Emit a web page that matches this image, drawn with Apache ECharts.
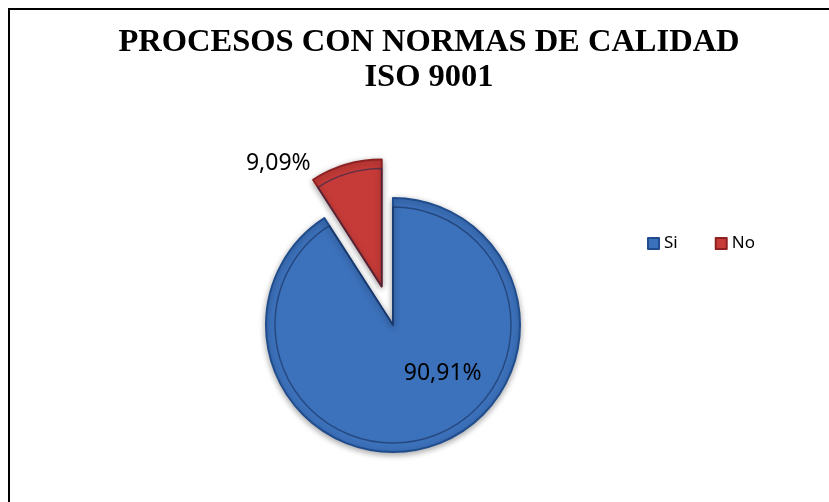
<!DOCTYPE html>
<html>
<head>
<meta charset="utf-8">
<script src="https://cdn.jsdelivr.net/npm/echarts@6/dist/echarts.min.js"></script>
<style>
html, body { margin: 0; padding: 0; background: #fff; }
#chart { width: 829px; height: 502px; }
</style>
</head>
<body>
<div id="chart"></div>
<script>
// datos del grafico
const categorias = ["Si", "No"];
const valores = [90.91, 9.09];
const etiquetas = ["90,91%", "9,09%"];
const colores = ["#3c71bb", "#c63b38"];
const bordes = ["#1f4c8c", "#8e2222"];

const chart = echarts.init(document.getElementById("chart"));

const datos = categorias.map((c, i) => ({
	name: c,
	value: valores[i],
	selected: i === 1,
	itemStyle: { color: colores[i], borderColor: bordes[i] },
	label: i === 0
		? { formatter: etiquetas[i], position: "inside", offset: [31, -15] }
		: { formatter: etiquetas[i], position: "outside", offset: [0, 3] },
	labelLine: { show: false, length: 1, length2: 30 }
}));

const option = {
	animation: false,
	title: {
		text: "PROCESOS CON NORMAS DE CALIDAD\nISO 9001",
		left: 424,
		top: 20,
		textAlign: "center",
		textStyle: {
			fontFamily: "Liberation Serif",
			fontWeight: "bold",
			fontSize: 32.5,
			lineHeight: 35,
			color: "#000"
		}
	},
	legend: {
		data: categorias,
		left: 642,
		top: 230,
		icon: "rect",
		itemWidth: 11,
		itemHeight: 11,
		itemGap: 37,
		selectedMode: false,
		textStyle: { fontFamily: "Noto Sans", fontSize: 17, color: "#000" }
	},
	graphic: [{
		type: "rect",
		silent: true,
		shape: { x: 9, y: 9, width: 900, height: 600 },
		style: { fill: "none", stroke: "#000", lineWidth: 2 }
	}],
	series: [
		{
			type: "pie",
			center: [393, 325],
			radius: 127,
			startAngle: 90,
			clockwise: true,
			selectedMode: "multiple",
			selectedOffset: 40,
			avoidLabelOverlap: false,
			itemStyle: {
				borderWidth: 2,
				shadowBlur: 6,
				shadowColor: "rgba(0,0,0,0.35)",
				shadowOffsetY: 2
			},
			label: {
				show: true,
				fontFamily: "Noto Sans",
				fontSize: 23,
				color: "#000"
			},
			emphasis: { disabled: true },
			data: datos
		},
		{
			// linea interior del bisel
			type: "pie",
			center: [393, 325],
			radius: 118,
			startAngle: 90,
			clockwise: true,
			silent: true,
			selectedMode: "multiple",
			selectedOffset: 40,
			z: 3,
			itemStyle: { color: "transparent", borderWidth: 1.5, borderColor: "rgba(20,40,80,0.55)" },
			label: { show: false },
			labelLine: { show: false },
			emphasis: { disabled: true },
			data: categorias.map((c, i) => ({ name: c, value: valores[i], selected: i === 1 }))
		}
	]
};

chart.setOption(option);
</script>
</body>
</html>
